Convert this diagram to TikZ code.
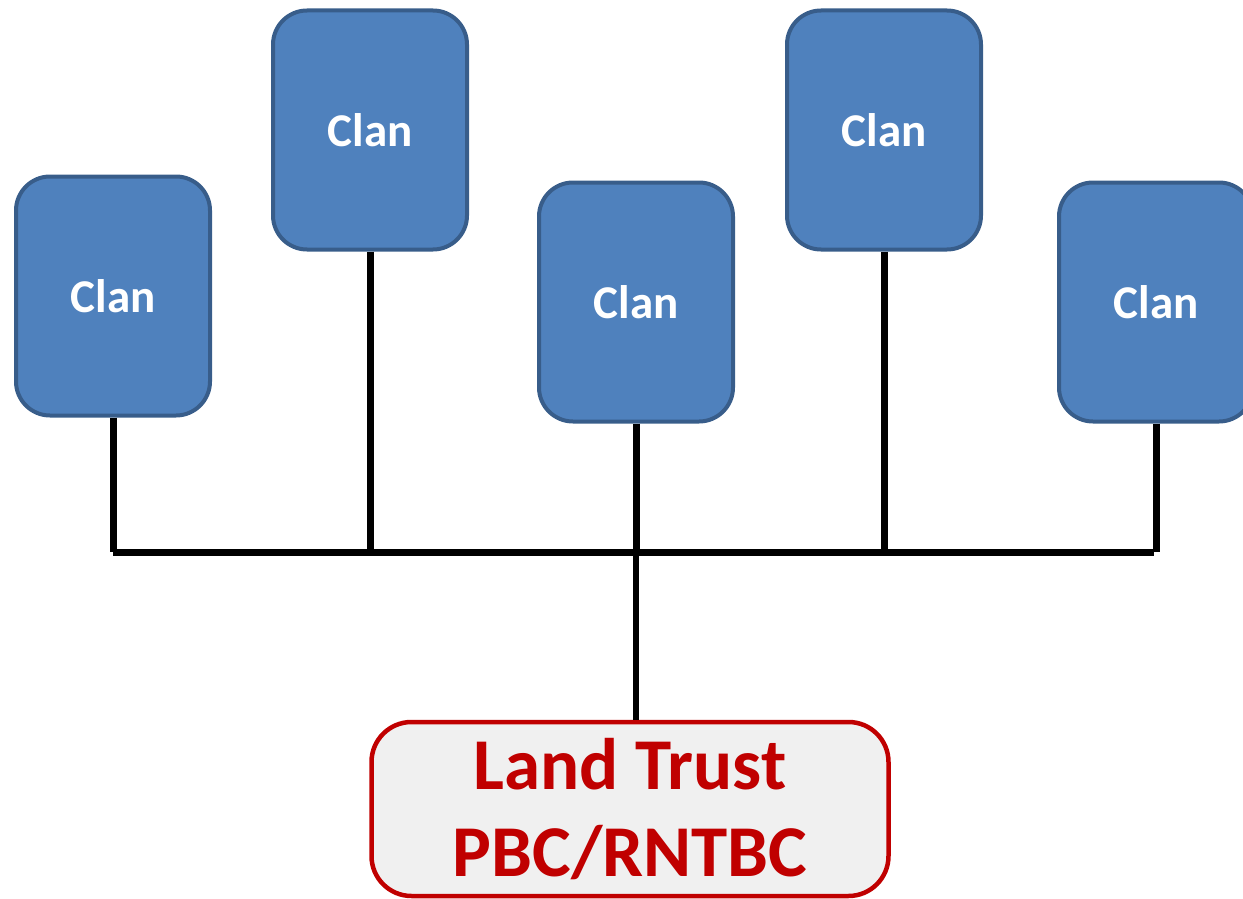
\documentclass[tikz,border=0pt]{standalone}
\usepackage{fontspec}
\setmainfont{Carlito}
\definecolor{clanfill}{HTML}{4F81BD}
\definecolor{clanedge}{HTML}{385D8A}
\definecolor{trustred}{HTML}{C00000}
\definecolor{trustfill}{HTML}{F0F0F0}
\tikzset{
  clan/.style={draw=clanedge, fill=clanfill, line width=4pt, rounded corners=34pt,
    minimum width=194pt, minimum height=239pt, inner sep=0pt,
    text=white, font=\bfseries\fontsize{47}{55}\selectfont},
  trust/.style={draw=trustred, fill=trustfill, line width=4.5pt, rounded corners=40pt,
    minimum width=517pt, minimum height=174pt, inner sep=0pt, align=center,
    text=trustred, font=\bfseries\fontsize{73}{88}\selectfont},
  link/.style={line width=7pt, black}
}
\begin{document}
\begin{tikzpicture}[x=1pt,y=-1pt]
\useasboundingbox (0,0) rectangle (1243,899);
\clip (0,0) rectangle (1243,899);
\node[clan] (c1) at (113,296) {Clan};
\node[clan] (c2) at (370,130) {Clan};
\node[clan] (c3) at (636,302) {Clan};
\node[clan] (c4) at (884,130) {Clan};
\node[clan] (c5) at (1156,302) {Clan};
\node[trust] (lt) at (630,809) {Land Trust\\[-1pt]PBC/RNTBC};
\coordinate (bl) at (113,552);
\coordinate (br) at (1154,552);
\draw[link] (c1.south) -- (c1.south |- bl);
\draw[link] (c2.south) -- (c2.south |- bl);
\draw[link] (c3.south) -- (c3.south |- bl);
\draw[link] (c4.south) -- (c4.south |- bl);
\draw[link] (c5.south) -- (c5.south |- bl);
\draw[link] (bl) -- (br);
\draw[line width=6pt] (c3.south |- bl) -- (c3.south |- lt.north);
\end{tikzpicture}
\end{document}
